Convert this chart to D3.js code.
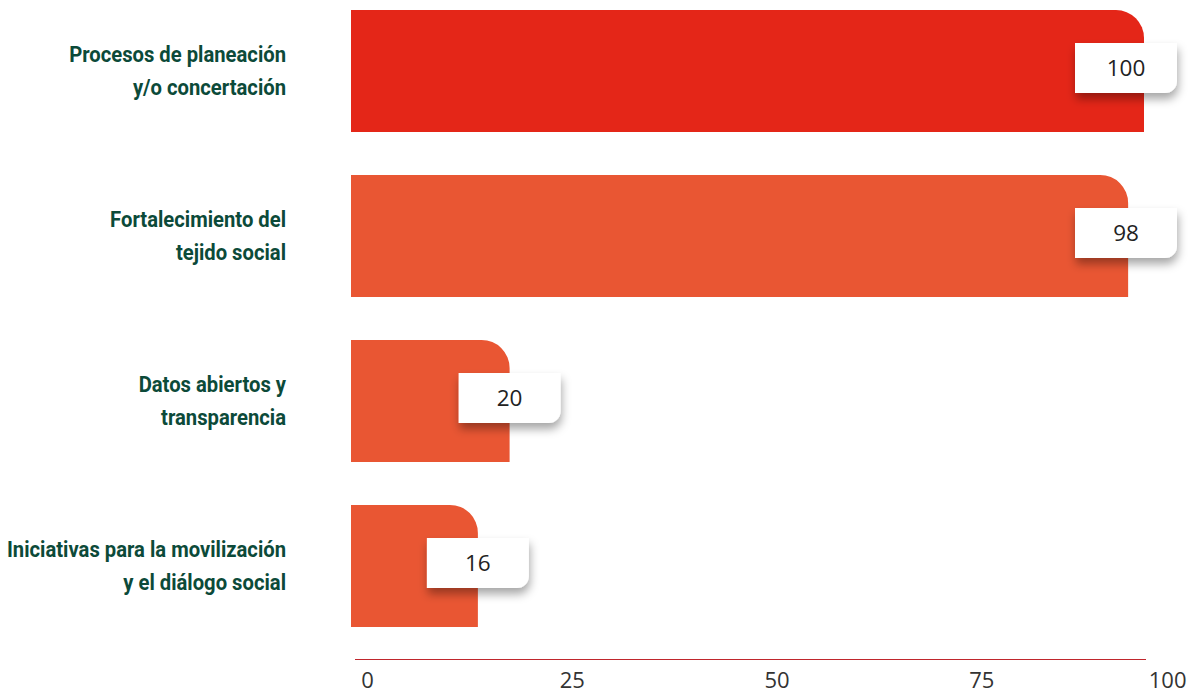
<!DOCTYPE html>
<html><head><meta charset="utf-8">
<script src="https://cdn.jsdelivr.net/npm/d3@7"></script>
<style>
html,body{margin:0;padding:0;background:#fff;}
svg{display:block;}
</style></head>
<body>
<svg id="chart" width="1195" height="693"></svg>
<script>
const categories = [
  ["Procesos de planeación", "y/o concertación"],
  ["Fortalecimiento del", "tejido social"],
  ["Datos abiertos y", "transparencia"],
  ["Iniciativas para la movilización", "y el diálogo social"]
];
const values = [100, 98, 20, 16];
const barColors = ["#e42618", "#e95633", "#e95633", "#e95633"];
const tickValues = [0, 25, 50, 75, 100];

const W = 1195, H = 693;
const svg = d3.select("#chart");

const x = d3.scaleLinear().domain([0, 100]).range([351, 1144]);
const y = d3.scaleBand().domain(d3.range(values.length)).range([10, 627]).paddingInner(0.26).paddingOuter(0);

const defs = svg.append("defs");
const f = defs.append("filter").attr("id", "sh").attr("x", "-30%").attr("y", "-30%").attr("width", "170%").attr("height", "190%");
f.append("feDropShadow").attr("dx", 1).attr("dy", 6).attr("stdDeviation", 5).attr("flood-color", "#000").attr("flood-opacity", 0.35);

const r = 28;
function barPath(x0, x1, y0, h) {
  const rr = Math.min(r, x1 - x0, h / 2);
  return `M${x0},${y0}H${x1 - rr}A${rr},${rr} 0 0 1 ${x1},${y0 + rr}V${y0 + h}H${x0}Z`;
}

const g = svg.append("g");
g.selectAll("path.bar").data(values).join("path")
  .attr("class", "bar")
  .attr("d", (d, i) => barPath(x(0), x(d), y(i), y.bandwidth()))
  .attr("fill", (d, i) => barColors[i]);

// category labels (condensed look via horizontal scale)
const lab = g.selectAll("text.cat").data(categories).join("text")
  .attr("class", "cat")
  .attr("text-anchor", "end")
  .attr("transform", "translate(286,0) scale(0.92,1)")
  .attr("font-family", "'Roboto', sans-serif")
  .attr("font-weight", "bold")
  .attr("font-size", 22)
  .attr("fill", "#0c4a39");
lab.each(function (d, i) {
  const t = d3.select(this);
  const cy = y(i) + y.bandwidth() / 2;
  d.forEach((line, j) => {
    t.append("tspan").attr("x", 0).attr("y", cy - 9 + j * 33).text(line);
  });
});

// value boxes
const bw = 102, bh = 50;
const boxes = g.selectAll("g.box").data(values).join("g").attr("class", "box")
  .attr("transform", (d, i) => {
    const cx = Math.min(x(d), W - 18 - bw / 2);
    const cy = y(i) + y.bandwidth() / 2 - 3;
    return `translate(${cx - bw / 2},${cy - bh / 2})`;
  });
const br = 12;
boxes.append("path")
  .attr("d", `M0,0H${bw}V${bh - br}A${br},${br} 0 0 1 ${bw - br},${bh}H0Z`)
  .attr("fill", "#fff")
  .attr("filter", "url(#sh)");
boxes.append("text")
  .attr("x", bw / 2).attr("y", bh / 2 + 8)
  .attr("text-anchor", "middle")
  .attr("font-family", "'Open Sans', sans-serif")
  .attr("font-size", 22.5)
  .attr("fill", "#222")
  .text(d => d);

// axis
const xa = d3.scaleLinear().domain([0, 100]).range([367, 1186]);
svg.append("line")
  .attr("x1", x(0) + 4).attr("x2", x(100) + 2)
  .attr("y1", 659.5).attr("y2", 659.5)
  .attr("stroke", "#c0272d").attr("stroke-width", 1.2);
const ax = svg.append("g").attr("transform", "translate(0,672)")
  .call(d3.axisBottom(xa).tickValues(tickValues).tickSize(0).tickPadding(0));
ax.select(".domain").remove();
ax.selectAll("text")
  .attr("font-family", "'Open Sans', sans-serif")
  .attr("font-size", 22)
  .attr("fill", "#333")
  .attr("dy", "0.71em")
  .attr("text-anchor", (d, i) => i === tickValues.length - 1 ? "end" : "middle");
</script>
</body></html>
